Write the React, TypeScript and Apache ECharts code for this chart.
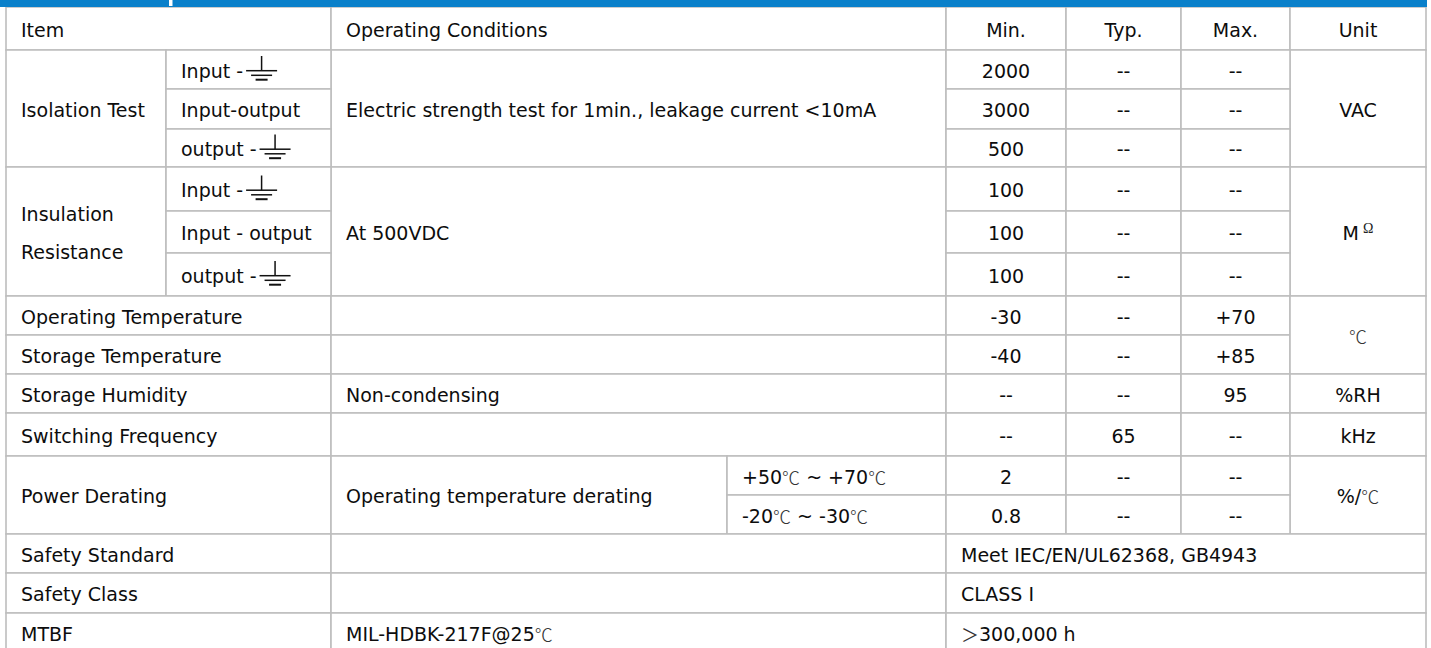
import React, { useEffect, useRef } from "react";
import * as echarts from "echarts";

// ---------- layout (positions of the table grid) ----------
const colEdges = [6, 166, 331, 727, 946, 1066, 1181, 1290, 1426];
const rowEdges = [7, 50, 89, 129, 167, 211, 253, 296, 335, 374, 413, 456, 495, 534, 573, 613, 652];

// ---------- data ----------
const headerLabels = ["Item", "Operating Conditions", "Min.", "Typ.", "Max.", "Unit"];

const isolationName = "Isolation Test";
const isolationItems = ["Input -", "Input-output", "output -"];
const isolationGround = [true, false, true];
const isolationCondition = "Electric strength test for 1min., leakage current <10mA";
const isolationMin = ["2000", "3000", "500"];
const isolationTyp = ["--", "--", "--"];
const isolationMax = ["--", "--", "--"];
const isolationUnit = "VAC";

const insulationName = "Insulation\nResistance";
const insulationItems = ["Input -", "Input - output", "output -"];
const insulationGround = [true, false, true];
const insulationCondition = "At 500VDC";
const insulationMin = ["100", "100", "100"];
const insulationTyp = ["--", "--", "--"];
const insulationMax = ["--", "--", "--"];
const insulationUnit = "MΩ";

const singleItems = ["Operating Temperature", "Storage Temperature", "Storage Humidity", "Switching Frequency"];
const singleConditions = ["", "", "Non-condensing", ""];
const singleMin = ["-30", "-40", "--", "--"];
const singleTyp = ["--", "--", "--", "65"];
const singleMax = ["+70", "+85", "95", "--"];
const temperatureUnit = "℃";
const humidityUnit = "%RH";
const frequencyUnit = "kHz";

const deratingName = "Power Derating";
const deratingCondition = "Operating temperature derating";
const deratingRanges = ["+50℃ ~ +70℃", "-20℃ ~ -30℃"];
const deratingMin = ["2", "0.8"];
const deratingTyp = ["--", "--"];
const deratingMax = ["--", "--"];
const deratingUnit = "%/℃";

const footItems = ["Safety Standard", "Safety Class", "MTBF"];
const footConditions = ["", "", "MIL-HDBK-217F@25℃"];
const footValues = ["Meet IEC/EN/UL62368, GB4943", "CLASS I", "＞300,000 h"];

// ---------- styles ----------
const FONT = '"DejaVu Sans", sans-serif';
const FS = 19;
const TEXT_COLOR = "#0d0d0d";
const LINE_COLOR = "#bdbdbd";
const BLUE = "#0A80CA";
const PAD = 15;

type Cell = {
  r0: number; r1: number; c0: number; c1: number;
  text: string; align: "left" | "center"; ground?: boolean;
};

function buildCells(): Cell[] {
  const cells: Cell[] = [];
  const add = (r0: number, r1: number, c0: number, c1: number, text: string,
    align: "left" | "center" = "center", ground = false) =>
    cells.push({ r0, r1, c0, c1, text, align, ground });

  // header
  add(0, 1, 0, 2, headerLabels[0], "left");
  add(0, 1, 2, 4, headerLabels[1], "left");
  for (let i = 0; i < 4; i++) add(0, 1, 4 + i, 5 + i, headerLabels[2 + i]);

  // isolation group
  add(1, 4, 0, 1, isolationName, "left");
  add(1, 4, 2, 4, isolationCondition, "left");
  add(1, 4, 7, 8, isolationUnit);
  isolationItems.forEach((t, i) => {
    const r = 1 + i;
    add(r, r + 1, 1, 2, t, "left", isolationGround[i]);
    add(r, r + 1, 4, 5, isolationMin[i]);
    add(r, r + 1, 5, 6, isolationTyp[i]);
    add(r, r + 1, 6, 7, isolationMax[i]);
  });

  // insulation group
  add(4, 7, 0, 1, insulationName, "left");
  add(4, 7, 2, 4, insulationCondition, "left");
  add(4, 7, 7, 8, insulationUnit);
  insulationItems.forEach((t, i) => {
    const r = 4 + i;
    add(r, r + 1, 1, 2, t, "left", insulationGround[i]);
    add(r, r + 1, 4, 5, insulationMin[i]);
    add(r, r + 1, 5, 6, insulationTyp[i]);
    add(r, r + 1, 6, 7, insulationMax[i]);
  });

  // single rows
  singleItems.forEach((t, i) => {
    const r = 7 + i;
    add(r, r + 1, 0, 2, t, "left");
    add(r, r + 1, 2, 4, singleConditions[i], "left");
    add(r, r + 1, 4, 5, singleMin[i]);
    add(r, r + 1, 5, 6, singleTyp[i]);
    add(r, r + 1, 6, 7, singleMax[i]);
  });
  add(7, 9, 7, 8, temperatureUnit);
  add(9, 10, 7, 8, humidityUnit);
  add(10, 11, 7, 8, frequencyUnit);

  // derating
  add(11, 13, 0, 2, deratingName, "left");
  add(11, 13, 2, 3, deratingCondition, "left");
  add(11, 13, 7, 8, deratingUnit);
  deratingRanges.forEach((t, i) => {
    const r = 11 + i;
    add(r, r + 1, 3, 4, t, "left");
    add(r, r + 1, 4, 5, deratingMin[i]);
    add(r, r + 1, 5, 6, deratingTyp[i]);
    add(r, r + 1, 6, 7, deratingMax[i]);
  });

  // footer rows
  footItems.forEach((t, i) => {
    const r = 13 + i;
    add(r, r + 1, 0, 2, t, "left");
    add(r, r + 1, 2, 4, footConditions[i], "left");
    add(r, r + 1, 4, 8, footValues[i], "left");
  });
  return cells;
}

function richify(s: string): string {
  return s
    .replace(/℃/g, "{deg|℃}")
    .replace(/＞/g, "{gt|＞}")
    .replace(/Ω/g, "{ohm|Ω}");
}

function measure(text: string): number {
  const c = document.createElement("canvas").getContext("2d");
  if (!c) return text.length * FS * 0.6;
  c.font = `${FS}px ${FONT}`;
  return c.measureText(text).width;
}

function buildGraphics() {
  const cells = buildCells();
  const rects: any[] = [];
  const texts: any[] = [];
  const symbols: any[] = [];

  cells.forEach((cell) => {
    const x0 = colEdges[cell.c0], x1 = colEdges[cell.c1];
    const y0 = rowEdges[cell.r0], y1 = rowEdges[cell.r1];
    rects.push({
      type: "rect",
      z: 1,
      shape: { x: x0, y: y0, width: x1 - x0, height: y1 - y0 },
      style: { fill: "#fff", stroke: LINE_COLOR, lineWidth: 1.6 },
    });
    if (!cell.text) return;
    const cy = (y0 + y1) / 2 + 1;
    const tx = cell.align === "left" ? x0 + PAD : (x0 + x1) / 2;
    texts.push({
      type: "text",
      z: 3,
      x: tx,
      y: cy,
      style: {
        text: richify(cell.text),
        fontFamily: FONT,
        fontSize: FS,
        fill: TEXT_COLOR,
        align: cell.align,
        verticalAlign: "middle",
        lineHeight: 38,
        rich: {
          deg: { fontFamily: '"Noto Sans CJK SC"', fontSize: 18, fontWeight: 300, fill: "#333" },
          gt: { fontFamily: '"Noto Sans CJK SC"', fontSize: 18, fill: "#333" },
          ohm: { fontFamily: '"Liberation Serif"', fontSize: 14, fill: "#222", padding: [0, 0, 8, 4] },
        },
      },
    });
    if (cell.ground) {
      const sx = tx + measure(cell.text) + 3;
      const by = (y0 + y1) / 2;
      const mid = sx + 15.5;
      const ls = { stroke: "#111", lineWidth: 1.5 };
      symbols.push(
        { type: "line", z: 3, shape: { x1: mid, y1: by - 13.5, x2: mid, y2: by + 1.2 }, style: ls },
        { type: "line", z: 3, shape: { x1: sx, y1: by + 1.2, x2: sx + 31, y2: by + 1.2 }, style: ls },
        { type: "line", z: 3, shape: { x1: mid - 10.5, y1: by + 5.8, x2: mid + 10.5, y2: by + 5.8 }, style: ls },
        { type: "line", z: 3, shape: { x1: mid - 6, y1: by + 10.2, x2: mid + 6, y2: by + 10.2 }, style: { stroke: "#111", lineWidth: 2 } },
      );
    }
  });

  const band = [
    { type: "rect", z: 5, shape: { x: 0, y: 0, width: 1427, height: 7 }, style: { fill: BLUE } },
    { type: "rect", z: 6, shape: { x: 169, y: 0, width: 3.5, height: 6 }, style: { fill: "#fff" } },
  ];

  return [...rects, ...texts, ...symbols, ...band];
}

export default function App() {
  const ref = useRef<HTMLDivElement>(null);
  useEffect(() => {
    document.body.style.margin = "0";
    if (!ref.current) return;
    const chart = echarts.init(ref.current, undefined, { renderer: "svg" });
    chart.setOption({
      animation: false,
      backgroundColor: "#fff",
      graphic: { elements: buildGraphics() },
    });
    return () => chart.dispose();
  }, []);
  return (
    <div
      ref={ref}
      style={{ position: "absolute", left: 0, top: 0, width: 1431, height: 648 }}
    />
  );
}
